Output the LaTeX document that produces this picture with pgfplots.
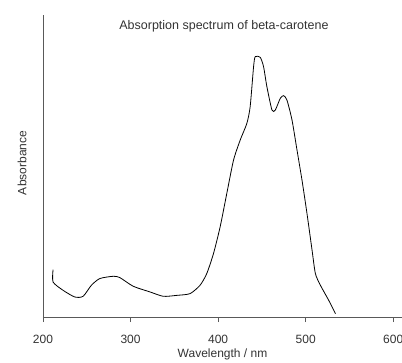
\documentclass[border=0pt]{standalone}
\usepackage{pgfplots}
\pgfplotsset{compat=1.18}
\usepackage{fontspec}
\setmainfont{Liberation Sans}
\begin{document}
\begin{tikzpicture}
\begin{axis}[
  scale only axis,
  width=359pt, height=302pt,
  xmin=200, xmax=610, ymin=0, ymax=1.131,
  axis x line=bottom, axis y line=left,
  axis line style={-, gray!70!black, line width=0.9pt},
  xtick={200,300,400,500,600},
  ytick=\empty,
  tick style={gray!70!black, line width=0.8pt},
  major tick length=5pt,
  xtick align=outside,
  /pgf/number format/assume math mode=true,
  tick label style={font=\fontsize{12}{14}\selectfont, text=gray!40!black},
  xticklabel style={anchor=center, yshift=-17pt},
  label style={font=\fontsize{12}{14}\selectfont, text=gray!40!black},
  xlabel={Wavelength / nm},
  ylabel={Absorbance},
  xlabel style={at={(axis description cs:0.5,0)}, anchor=center, yshift=-37pt},
  ylabel style={at={(axis description cs:-0.0585,0.51)}, anchor=center},
  title={Absorption spectrum of beta-carotene},
  title style={at={(axis description cs:0.504,1)}, anchor=center, yshift=-17pt, font=\fontsize{12.5}{14}\selectfont, text=gray!40!black},
  clip=false,
]
\addplot[black, line width=0.8pt, smooth, tension=0.4] coordinates {
(211.5,0.1775) (211.5,0.131) (222.9,0.100) (236.3,0.075) (245.8,0.0775)
(255.3,0.119) (264.9,0.144) (280.2,0.1525) (287.8,0.1475) (303.1,0.115)
(322.1,0.094) (337.4,0.0775) (352.7,0.081) (367.9,0.0875) (379.4,0.119)
(387.0,0.1625) (394.7,0.2375) (402.3,0.3375) (409.9,0.4625) (417.6,0.5875)
(425.2,0.6625) (432.8,0.725) (436.6,0.7875) (440.5,0.9375) (442.4,0.975)
(448.1,0.9725) (451.9,0.9375) (455.7,0.8625) (461.5,0.775) (465.3,0.775)
(471.0,0.819) (474.8,0.829) (478.6,0.8125) (484.4,0.7375) (490.1,0.625)
(495.8,0.5125) (501.5,0.3875) (507.3,0.25) (511.1,0.1625) (516.8,0.119)
(526.3,0.0625) (534.0,0.0125)
};
\end{axis}
\pgfresetboundingbox
\path (-43pt,-45pt) rectangle (359pt,317pt);
\end{tikzpicture}
\end{document}
